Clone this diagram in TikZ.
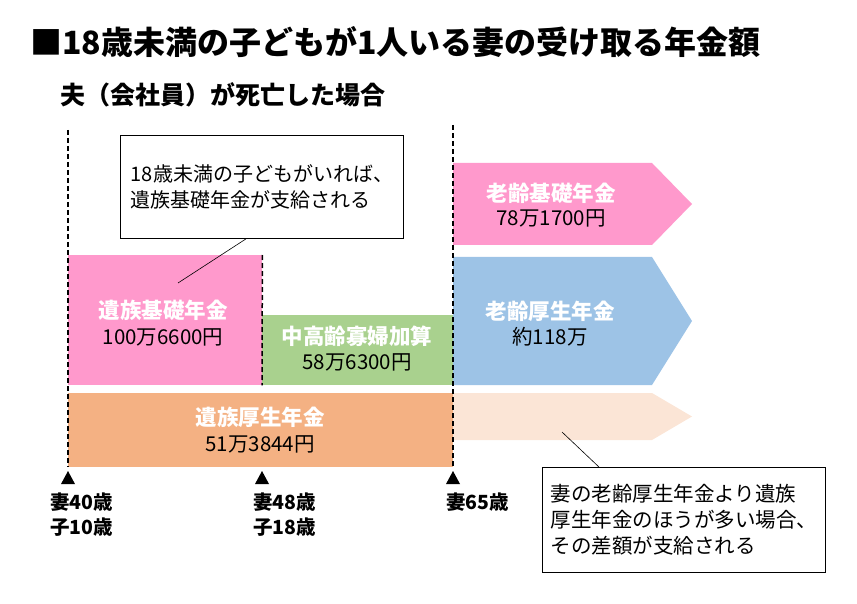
\documentclass[tikz,border=0pt]{standalone}
\usepackage{fontspec}
\setmainfont{Noto Sans CJK JP}
\usetikzlibrary{positioning}
\definecolor{kisopink}{HTML}{FF99CC}
\definecolor{kafugreen}{HTML}{A9D18E}
\definecolor{koseiorange}{HTML}{F4B183}
\definecolor{roreiblue}{HTML}{9DC3E6}
\definecolor{sagakupeach}{HTML}{FBE5D6}

\begin{document}
\begin{tikzpicture}[x=1pt,y=-1pt,
  dashline/.style={line width=1.5pt,dash pattern=on 5pt off 3pt},
  bar/.style={inner sep=0pt,anchor=north west},
  head/.style={text=white,font=\bfseries\fontsize{21.5}{24}\selectfont},
  amount/.style={font=\fontsize{20.5}{24}\selectfont},
  note/.style={draw,line width=0.9pt,anchor=north west,inner sep=0pt,align=left,
    minimum width=283pt},
  age/.style={anchor=north west,align=left,inner sep=0pt,font=\bfseries\fontsize{19.5}{25}\selectfont}]
\useasboundingbox (0,0) rectangle (857,604);

\node[anchor=west,inner sep=0pt,font=\bfseries\fontsize{32}{36}\selectfont] (title) at (30,42) {■18歳未満の子どもが1人いる妻の受け取る年金額};
\node[anchor=west,inner sep=0pt,font=\bfseries\fontsize{25}{28}\selectfont] (sub) at (60,95) {夫（会社員）が死亡した場合};

% bars
\node[bar,fill=kisopink,minimum width=194pt,minimum height=130pt] (izokukiso) at (68,255) {};
\node[bar,fill=kafugreen,minimum width=191pt,minimum height=70pt] (kafu) at (262,315) {};
\node[bar,fill=koseiorange,minimum width=385pt,minimum height=74pt] (izokukosei) at (68,393) {};

% arrows after 65
\fill[kisopink] (453,163) -- (652,163) -- (692,204) -- (652,245) -- (453,245) -- cycle; % roreikiso
\fill[roreiblue] (453,257) -- (652,257) -- (692,321) -- (652,385) -- (453,385) -- cycle; % roreikosei
\fill[sagakupeach] (453,393) -- (652,393) -- (692,416.5) -- (652,440) -- (453,440) -- cycle; % sagaku
\coordinate (sagaku) at (562,432);

% labels
\node[head] (izokukisoT) at (163,310) {遺族基礎年金};
\node[amount] (izokukisoA) at (163,337) {100万6600円};
\node[head] (kafuT) at (357,336) {中高齢寡婦加算};
\node[amount] (kafuA) at (357,362) {58万6300円};
\node[head] (izokukoseiT) at (260,417) {遺族厚生年金};
\node[amount] (izokukoseiA) at (260,444) {51万3844円};
\node[head] (roreikisoT) at (551,193) {老齢基礎年金};
\node[amount] (roreikisoA) at (551,218) {78万1700円};
\node[head] (roreikoseiT) at (550,311) {老齢厚生年金};
\node[amount] (roreikoseiA) at (550,337) {約118万};

% time lines
\coordinate (start) at (68,130);
\coordinate (start-end) at (68,467);
\coordinate (age65) at (453,125);
\coordinate (age65-end) at (453,467);
\draw[dashline] (start) -- (start-end);
\draw[dashline] (izokukiso.north east) -- (kafu.south west);
\draw[dashline] (age65) -- (age65-end);

% notes
\node[note,minimum height=103pt,font=\fontsize{20}{26}\selectfont] (note1) at (120,135) {18歳未満の子どもがいれば、\\遺族基礎年金が支給される};
\node[note,minimum height=105pt,font=\fontsize{20.5}{26}\selectfont] (note2) at (542,467) {妻の老齢厚生年金より遺族\\厚生年金のほうが多い場合、\\その差額が支給される};
\coordinate (note1-end) at (178,283);
\draw[line width=0.6pt] ([xshift=-16pt]note1.south) -- (note1-end);
\draw[line width=0.6pt] ([xshift=-85pt]note2.north) -- (sagaku);

% ages
\foreach \x in {68,262,453}
  \fill (\x,471) -- (\x+7,484) -- (\x-7,484) -- cycle;
\node[age] (age40) at (50,493) {妻40歳\\子10歳};
\node[age] (age48) at (253,493) {妻48歳\\子18歳};
\node[age] (age65T) at (446,493) {妻65歳};
\end{tikzpicture}
\end{document}
